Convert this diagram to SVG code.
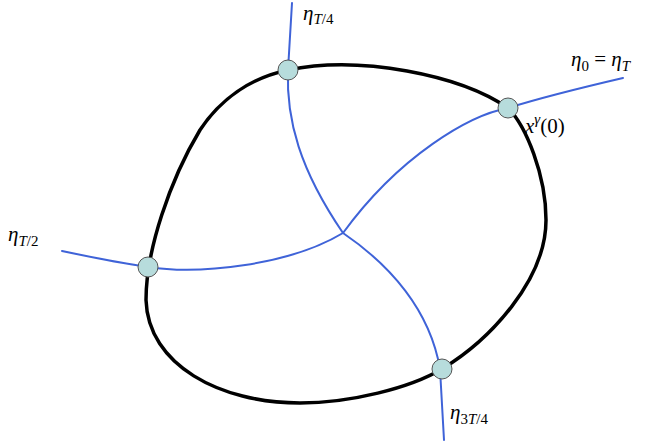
<svg xmlns="http://www.w3.org/2000/svg" width="647" height="446" viewBox="0 0 647 446">
<style>
.curve{fill:none;stroke:#000;stroke-width:3.5;stroke-linecap:round;stroke-linejoin:round}
.eta{fill:none;stroke:#3f63d8;stroke-width:2;stroke-linecap:round}
.node circle{fill:#b7dcdc;stroke:#555;stroke-width:1}
text{font-family:"Liberation Serif","DejaVu Serif",serif;font-size:21px;fill:#000}
.it{font-style:italic}
.sub{font-size:15px}
</style>
<rect width="647" height="446" fill="#fff"/>
<g id="loop">
<path class="curve" d="M288,70 C360,55 460,75 508,108 C526,126 546,175 546,220 C546,280 490,340 442,369 C410,388 350,403 300,403 C220,403 148,365 146,300 C146,250 170,180 200,130 C220,100 250,78 288,70 Z"/>
</g>
<g id="connectors">
<path class="eta" d="M292,3 L288,70 C286,120 300,170 343,233"/>
<path class="eta" d="M623,78 C580,88 540,98 508,108 C470,115 400,155 343,233"/>
<path class="eta" d="M62,251 C95,258 120,263 148,267 C200,275 290,265 343,233"/>
<path class="eta" d="M343,233 C390,265 430,310 440,369 L444,440"/>
</g>
<g id="n-top" class="node"><circle cx="288" cy="70" r="10"/></g>
<g id="n-right" class="node"><circle cx="508" cy="108" r="10"/></g>
<g id="n-left" class="node"><circle cx="148" cy="267" r="10"/></g>
<g id="n-bottom" class="node"><circle cx="442" cy="369" r="10"/></g>
<g id="labels">
<text x="303" y="20"><tspan class="it">η</tspan><tspan class="it sub" dy="4">T</tspan><tspan class="sub">/4</tspan></text>
<text x="571" y="66"><tspan class="it">η</tspan><tspan class="sub" dy="5">0</tspan><tspan dy="-5"> = </tspan><tspan class="it">η</tspan><tspan class="it sub" dy="5">T</tspan></text>
<text x="525" y="133"><tspan class="it">x</tspan><tspan class="it sub" dy="-9">γ</tspan><tspan dy="9">(0)</tspan></text>
<text x="8" y="241"><tspan class="it">η</tspan><tspan class="it sub" dy="5">T</tspan><tspan class="sub">/2</tspan></text>
<text x="450" y="419"><tspan class="it">η</tspan><tspan class="sub" dy="5">3</tspan><tspan class="it sub">T</tspan><tspan class="sub">/4</tspan></text>
</g>
</svg>
